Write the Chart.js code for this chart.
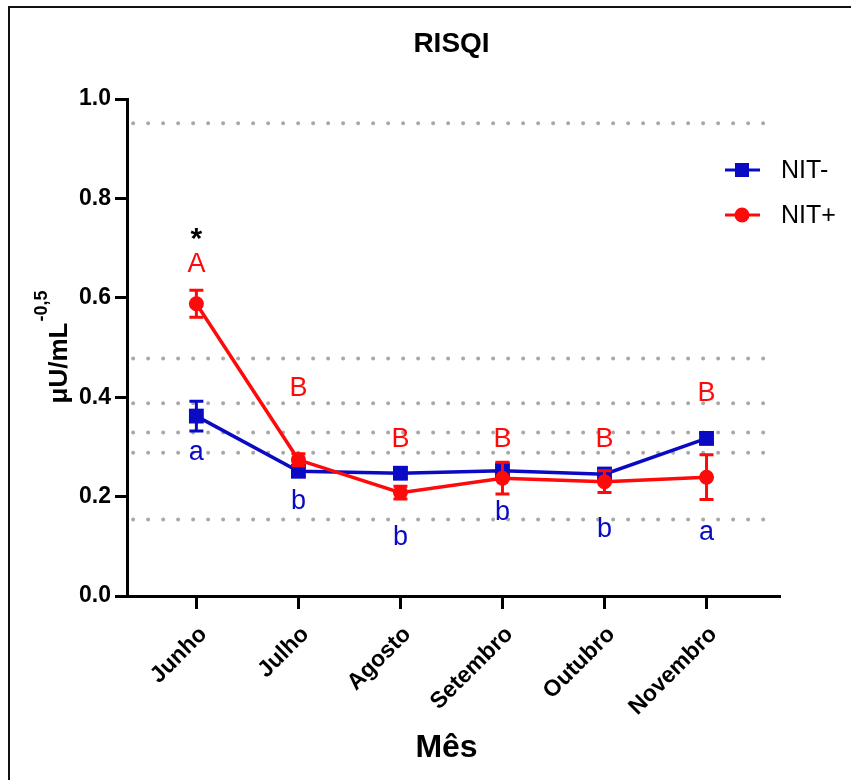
<!DOCTYPE html>
<html>
<head>
<meta charset="utf-8">
<script src="https://cdn.jsdelivr.net/npm/chart.js@4.4.1/dist/chart.umd.min.js"></script>
<style>
  body { margin: 0; background: #fff; }
  #wrap { width: 851px; height: 780px; position: relative; }
</style>
</head>
<body>
<div id="wrap"><canvas id="risqi-chart" width="851" height="780"></canvas></div>
<script>
// Data
const months = ['Junho', 'Julho', 'Agosto', 'Setembro', 'Outubro', 'Novembro'];
const nitNeg = [0.362, 0.251, 0.247, 0.252, 0.245, 0.317];
const nitNegErr = [0.030, 0.010, 0.010, 0.015, 0.012, 0.010];
const nitPos = [0.588, 0.274, 0.208, 0.237, 0.230, 0.239];
const nitPosErr = [0.027, 0.012, 0.013, 0.032, 0.022, 0.045];
const yTicks = [0.0, 0.2, 0.4, 0.6, 0.8, 1.0];
const refLines = [0.951, 0.478, 0.388, 0.329, 0.288, 0.154];

// significance letters
const posLetters = ['A', 'B', 'B', 'B', 'B', 'B'];
const posLetterY = [0.666, 0.418, 0.314, 0.314, 0.314, 0.408];
const negLetters = ['a', 'b', 'b', 'b', 'b', 'a'];
const negLetterY = [0.288, 0.191, 0.117, 0.167, 0.133, 0.127];
const starY = 0.725;

const BLUE = '#0a0ac4';
const RED = '#ff0a0a';
const FONT = "'Liberation Sans', Arial, sans-serif";

// Error bars, dotted reference lines, letters, titles and legend
const extras = {
    id: 'extras',
    beforeDatasetsDraw(chart) {
        const ctx = chart.ctx;
        const x = chart.scales.x, y = chart.scales.y;
        ctx.save();
        ctx.strokeStyle = '#a8a8a8';
        ctx.lineWidth = 4;
        ctx.lineCap = 'round';
        ctx.setLineDash([0, 15]);
        refLines.forEach(v => {
            const py = y.getPixelForValue(v);
            ctx.beginPath();
            ctx.moveTo(x.getPixelForValue(-0.62), py);
            ctx.lineTo(x.getPixelForValue(5.58), py);
            ctx.stroke();
        });
        ctx.restore();
    },
    beforeDatasetDraw(chart, args) {
        const ctx = chart.ctx;
        const x = chart.scales.x, y = chart.scales.y;
        const vals = args.index === 0 ? nitNeg : nitPos;
        const errs = args.index === 0 ? nitNegErr : nitPosErr;
        ctx.save();
        ctx.strokeStyle = args.index === 0 ? BLUE : RED;
        ctx.lineWidth = 3;
        vals.forEach((v, i) => {
            const px = x.getPixelForValue(i);
            const top = y.getPixelForValue(v + errs[i]);
            const bot = y.getPixelForValue(v - errs[i]);
            ctx.beginPath();
            ctx.moveTo(px, top); ctx.lineTo(px, bot);
            ctx.moveTo(px - 7, top); ctx.lineTo(px + 7, top);
            ctx.moveTo(px - 7, bot); ctx.lineTo(px + 7, bot);
            ctx.stroke();
        });
        ctx.restore();
    },
    afterDraw(chart) {
        const ctx = chart.ctx;
        const x = chart.scales.x, y = chart.scales.y;
        const area = chart.chartArea;
        const cx = (area.left + area.right) / 2;
        ctx.save();

        // frame
        ctx.fillStyle = '#111';
        ctx.fillRect(8, 6, 2, 780);
        ctx.fillRect(8, 6, 851, 2);

        // letters
        ctx.textAlign = 'center';
        ctx.textBaseline = 'middle';
        ctx.font = '27px ' + FONT;
        months.forEach((m, i) => {
            const px = x.getPixelForValue(i);
            ctx.fillStyle = RED;
            ctx.fillText(posLetters[i], px, y.getPixelForValue(posLetterY[i]));
            ctx.fillStyle = BLUE;
            ctx.fillText(negLetters[i], px, y.getPixelForValue(negLetterY[i]));
        });
        ctx.fillStyle = '#000';
        ctx.font = 'bold 30px ' + FONT;
        ctx.fillText('*', x.getPixelForValue(0), y.getPixelForValue(starY) + 4);

        // title and x title
        ctx.font = 'bold 28px ' + FONT;
        ctx.fillText('RISQI', cx - 2, 44);
        ctx.font = 'bold 32px ' + FONT;
        ctx.fillText('Mês', cx - 7, 748);

        // y title with superscript
        ctx.translate(67, (area.top + area.bottom) / 2);
        ctx.rotate(-Math.PI / 2);
        ctx.textAlign = 'left';
        ctx.textBaseline = 'alphabetic';
        ctx.font = 'bold 26px ' + FONT;
        const w1 = ctx.measureText('\u03bcU/mL').width;
        ctx.font = 'bold 18px ' + FONT;
        const w2 = ctx.measureText('-0,5').width;
        const x0 = -(w1 + w2) / 2;
        ctx.font = 'bold 26px ' + FONT;
        ctx.fillText('\u03bcU/mL', x0, 0);
        ctx.font = 'bold 18px ' + FONT;
        ctx.fillText('-0,5', x0 + w1 + 1, -20);
        ctx.restore();

        // legend
        ctx.save();
        const items = [
            { label: 'NIT-', color: BLUE, style: 'rect', y: 170 },
            { label: 'NIT+', color: RED, style: 'circle', y: 215 }
        ];
        items.forEach(it => {
            ctx.strokeStyle = it.color;
            ctx.fillStyle = it.color;
            ctx.lineWidth = 3;
            ctx.beginPath();
            ctx.moveTo(725, it.y); ctx.lineTo(760, it.y);
            ctx.stroke();
            if (it.style === 'rect') {
                ctx.fillRect(735, it.y - 7, 14, 14);
            } else {
                ctx.beginPath();
                ctx.arc(742, it.y, 7.5, 0, Math.PI * 2);
                ctx.fill();
            }
            ctx.fillStyle = '#000';
            ctx.font = '25px ' + FONT;
            ctx.textAlign = 'left';
            ctx.textBaseline = 'middle';
            ctx.fillText(it.label, 781, it.y + 1);
        });
        ctx.restore();
    }
};

const ctxRisqi = document.getElementById('risqi-chart').getContext('2d');
new Chart(ctxRisqi, {
    type: 'line',
    data: {
        datasets: [{
            label: 'NIT-',
            data: nitNeg.map((v, i) => ({ x: i, y: v })),
            borderColor: BLUE,
            backgroundColor: BLUE,
            borderWidth: 3.5,
            pointStyle: 'rect',
            pointRadius: 10.5,
            pointBorderWidth: 0,
            order: 1
        }, {
            label: 'NIT+',
            data: nitPos.map((v, i) => ({ x: i, y: v })),
            borderColor: RED,
            backgroundColor: RED,
            borderWidth: 3.5,
            pointStyle: 'circle',
            pointRadius: 7.5,
            pointBorderWidth: 0,
            order: 0
        }]
    },
    options: {
        responsive: false,
        animation: false,
        layout: { padding: { left: 0, top: 99, right: 71, bottom: 0 } },
        plugins: {
            legend: { display: false },
            tooltip: { enabled: false },
            title: { display: false }
        },
        scales: {
            x: {
                type: 'linear',
                min: -0.68,
                max: 5.72,
                afterFit: s => { s.height = 184; },
                afterBuildTicks: s => { s.ticks = months.map((m, i) => ({ value: i })); },
                grid: { drawOnChartArea: false, tickLength: 13, tickWidth: 3, tickColor: '#000' },
                border: { color: '#000', width: 3 },
                ticks: {
                    autoSkip: false,
                    minRotation: 45,
                    maxRotation: 45,
                    padding: 12,
                    labelOffset: 7,
                    color: '#000',
                    font: { family: FONT, size: 23, weight: 'bold' },
                    callback: v => months[v]
                }
            },
            y: {
                min: 0,
                max: 1,
                afterFit: s => { s.width = 127; },
                afterBuildTicks: s => { s.ticks = yTicks.map(v => ({ value: v })); },
                grid: { drawOnChartArea: false, tickLength: 12, tickWidth: 3, tickColor: '#000' },
                border: { color: '#000', width: 3 },
                ticks: {
                    padding: 4,
                    color: '#000',
                    font: { family: FONT, size: 23, weight: 'bold' },
                    callback: v => v.toFixed(1)
                }
            }
        }
    },
    plugins: [extras]
});
</script>
</body>
</html>
